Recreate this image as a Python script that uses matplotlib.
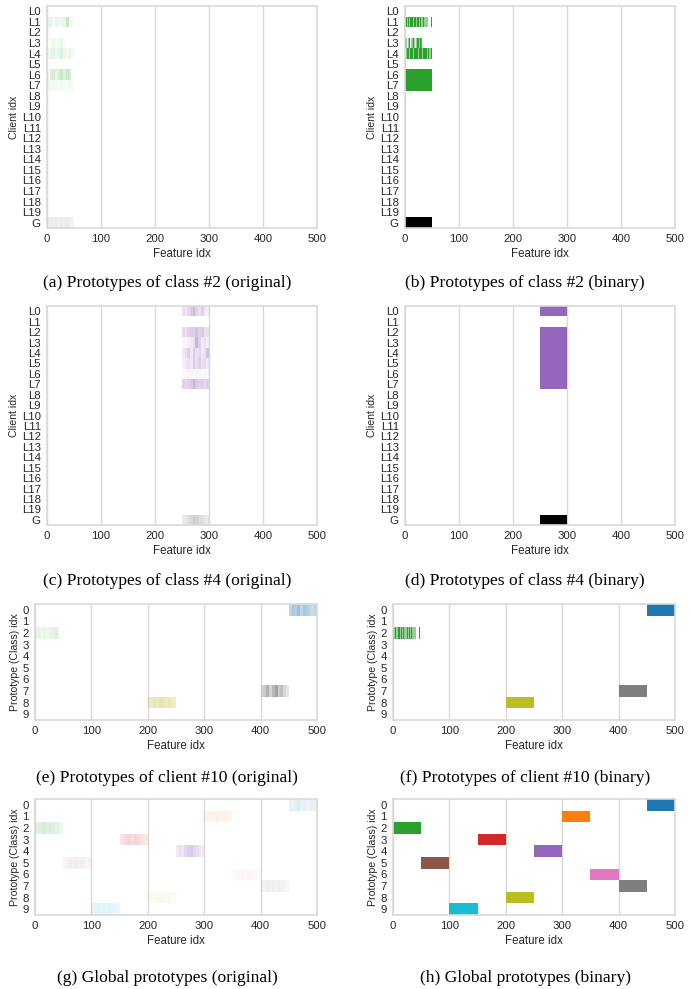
import numpy as np
import matplotlib
matplotlib.use("Agg")
import matplotlib.pyplot as plt
from matplotlib.colors import to_rgb

# ---------------- data ----------------
FEATURES = 500
CLIENT_LABELS = [f"L{i}" for i in range(20)] + ["G"]
CLASS_LABELS = [str(i) for i in range(10)]
CLASS_COLORS = ["#1f77b4", "#ff7f0e", "#2ca02c", "#d62728", "#9467bd",
                "#8c564b", "#e377c2", "#7f7f7f", "#bcbd22", "#17becf"]
GLOBAL_COLOR = "#000000"
BLOCK_START = [450, 300, 0, 150, 250, 50, 350, 400, 200, 100]   # block of 50 features per class
BLOCK_WIDTH = 50

# (a) class #2 original (10 segments of 5 features, intensity)
A_ROWS = {
    1: [0.08, 0.12, 0.05, 0.10, 0.06, 0.08, 0.10, 0.25, 0.05, 0.06],
    3: [0.00, 0.04, 0.08, 0.05, 0.06, 0.10, 0.04, 0.00, 0.00, 0.00],
    4: [0.05, 0.10, 0.12, 0.08, 0.10, 0.15, 0.08, 0.06, 0.10, 0.05],
    6: [0.05, 0.15, 0.20, 0.12, 0.18, 0.25, 0.15, 0.25, 0.20, 0.00],
    7: [0.04, 0.05, 0.06, 0.05, 0.04, 0.06, 0.05, 0.04, 0.06, 0.04],
}
A_GLOBAL = [0.06, 0.08, 0.07, 0.08, 0.06, 0.08, 0.07, 0.08, 0.06, 0.05]

# (b) class #2 binary (25 segments of 2 features)
B_ROWS = {
    1: [1, 1, .5, 1, .5, 1, 1, .5, 1, 1, .5, 1, 1, .5, 1, .5, .5, 1, .5, .5, .5, 0, 0, 0, 1],
    3: [1, .5, 0, .5, 1, 0, .5, 1, .5, 0, .5, 1, 1, .5, 1, .8, 0, 0, 0, 0, 0, 0, 0, 0, 0],
    4: [0, .5, 1, 1, .5, 1, 1, .5, 1, 1, 1, 1, .5, 1, 1, 1, .5, 1, 1, 1, .5, 1, .5, .5, 1],
    6: [1] * 25,
    7: [1] * 25,
}
B_GLOBAL = [1] * 25

# (c) class #4 original
C_ROWS = {
    0: [0.20, 0.15, 0.25, 0.35, 0.45, 0.30, 0.20, 0.30, 0.15, 0.10],
    2: [0.25, 0.20, 0.30, 0.35, 0.30, 0.40, 0.30, 0.35, 0.20, 0.20],
    3: [0.05, 0.05, 0.10, 0.15, 0.20, 0.50, 0.30, 0.15, 0.20, 0.10],
    4: [0.15, 0.20, 0.30, 0.15, 0.35, 0.20, 0.25, 0.15, 0.20, 0.40],
    5: [0.10, 0.15, 0.20, 0.15, 0.35, 0.20, 0.30, 0.20, 0.25, 0.15],
    6: [0.04, 0.05, 0.06, 0.05, 0.04, 0.06, 0.05, 0.04, 0.05, 0.04],
    7: [0.30, 0.25, 0.30, 0.35, 0.50, 0.35, 0.30, 0.30, 0.25, 0.30],
}
C_GLOBAL = [0.08, 0.10, 0.12, 0.15, 0.20, 0.18, 0.15, 0.12, 0.10, 0.08]

# (d) class #4 binary
D_ROWS = {r: [1] * 10 for r in [0, 2, 3, 4, 5, 6, 7]}
D_GLOBAL = [1] * 10

# (e) client #10 original (row = class)
E_ROWS = {
    0: [0.30, 0.40, 0.35, 0.45, 0.30, 0.40, 0.35, 0.30, 0.25, 0.30],
    2: [0.08, 0.10, 0.06, 0.10, 0.08, 0.10, 0.12, 0.15, 0.04, 0.00],
    7: [0.25, 0.40, 0.60, 0.35, 0.55, 0.70, 0.40, 0.50, 0.30, 0.20],
    8: [0.25, 0.30, 0.35, 0.30, 0.40, 0.35, 0.30, 0.35, 0.30, 0.25],
}
# (f) client #10 binary
F_ROWS = {
    0: [1] * 25,
    2: [1, .5, 1, .5, 1, 1, .5, 1, .5, 1, .5, .5, 1, .5, 1, .5, 1, .5, .5, .5, 0, 0, 0, 1, 0],
    7: [1] * 25,
    8: [1] * 25,
}

# (g) global original
G_ROWS = {
    0: [0.10, 0.08, 0.12, 0.15, 0.10, 0.12, 0.08, 0.10, 0.12, 0.10],
    1: [0.08, 0.10, 0.09, 0.10, 0.12, 0.10, 0.09, 0.11, 0.10, 0.08],
    2: [0.12, 0.15, 0.18, 0.20, 0.15, 0.18, 0.15, 0.12, 0.10, 0.08],
    3: [0.12, 0.15, 0.18, 0.20, 0.15, 0.20, 0.18, 0.15, 0.12, 0.10],
    4: [0.15, 0.20, 0.15, 0.25, 0.30, 0.35, 0.25, 0.20, 0.15, 0.12],
    5: [0.06, 0.08, 0.10, 0.08, 0.10, 0.08, 0.10, 0.08, 0.06, 0.05],
    6: [0.05, 0.06, 0.07, 0.08, 0.06, 0.08, 0.07, 0.06, 0.05, 0.04],
    7: [0.08, 0.10, 0.12, 0.10, 0.12, 0.10, 0.12, 0.10, 0.08, 0.06],
    8: [0.06, 0.08, 0.07, 0.08, 0.09, 0.08, 0.07, 0.08, 0.06, 0.05],
    9: [0.10, 0.12, 0.15, 0.12, 0.15, 0.12, 0.15, 0.12, 0.10, 0.08],
}
# (h) global binary
H_ROWS = {c: [1] * 10 for c in range(10)}

CAPTIONS = ["(a) Prototypes of class #2 (original)", "(b) Prototypes of class #2 (binary)",
            "(c) Prototypes of class #4 (original)", "(d) Prototypes of class #4 (binary)",
            "(e) Prototypes of client #10 (original)", "(f) Prototypes of client #10 (binary)",
            "(g) Global prototypes (original)", "(h) Global prototypes (binary)"]
XTICKS = [0, 100, 200, 300, 400, 500]

# ---------------- drawing ----------------
W, H = 691, 989
fig = plt.figure(figsize=(W / 100, H / 100), dpi=100)
fig.patch.set_facecolor("white")

SANS = ["Liberation Sans", "DejaVu Sans"]
SERIF = ["Liberation Serif", "DejaVu Serif"]
TXT = "#262626"
TICK_FS = 8.2


def px_axes(left, top, right, bottom):
    return fig.add_axes([left / W, 1 - bottom / H, (right - left) / W, (bottom - top) / H])


def build_image(nrows, entries):
    img = np.zeros((nrows, FEATURES, 4))
    for row, start, color, vals in entries:
        seg = BLOCK_WIDTH // len(vals)
        rgb = to_rgb(color)
        for i, v in enumerate(vals):
            s = start + i * seg
            img[row, s:s + seg, :3] = rgb
            img[row, s:s + seg, 3] = v
    return img


def draw_panel(rect, labels, entries, ylabel):
    ax = px_axes(*rect)
    n = len(labels)
    img = build_image(n, entries)
    ax.imshow(img, extent=(0, FEATURES, n - 0.5, -0.5), aspect="auto",
              interpolation="nearest", zorder=2)
    ax.set_xlim(0, FEATURES)
    ax.set_ylim(n - 0.5, -0.5)
    ax.set_xticks(XTICKS)
    ax.set_xticklabels([str(t) for t in XTICKS])
    ax.set_yticks(range(n))
    ax.set_yticklabels(labels)
    ax.grid(axis="x", color="#d9d9d9", linewidth=1.0, zorder=0)
    ax.grid(axis="y", visible=False)
    ax.set_axisbelow(True)
    for s in ax.spines.values():
        s.set_color("#d9d9d9")
        s.set_linewidth(1.2)
    ax.tick_params(length=0, labelsize=TICK_FS, labelcolor=TXT)
    ax.tick_params(axis="x", pad=4)
    ax.tick_params(axis="y", pad=4.5)
    for t in ax.get_xticklabels() + ax.get_yticklabels():
        t.set_family(SANS)
    ax.set_xlabel("Feature idx", fontsize=8.3, color=TXT, family=SANS, labelpad=3.5)
    ax.set_ylabel(ylabel, fontsize=7.6, color=TXT, family=SANS, labelpad=2)
    return ax


GI = len(CLIENT_LABELS) - 1
c2, c4 = 2, 4

entries_a = [(r, BLOCK_START[c2], CLASS_COLORS[c2], v) for r, v in A_ROWS.items()]
entries_a.append((GI, BLOCK_START[c2], GLOBAL_COLOR, A_GLOBAL))
entries_b = [(r, BLOCK_START[c2], CLASS_COLORS[c2], v) for r, v in B_ROWS.items()]
entries_b.append((GI, BLOCK_START[c2], GLOBAL_COLOR, B_GLOBAL))
entries_c = [(r, BLOCK_START[c4], CLASS_COLORS[c4], v) for r, v in C_ROWS.items()]
entries_c.append((GI, BLOCK_START[c4], GLOBAL_COLOR, C_GLOBAL))
entries_d = [(r, BLOCK_START[c4], CLASS_COLORS[c4], v) for r, v in D_ROWS.items()]
entries_d.append((GI, BLOCK_START[c4], GLOBAL_COLOR, D_GLOBAL))
entries_e = [(c, BLOCK_START[c], CLASS_COLORS[c], v) for c, v in E_ROWS.items()]
entries_f = [(c, BLOCK_START[c], CLASS_COLORS[c], v) for c, v in F_ROWS.items()]
entries_g = [(c, BLOCK_START[c], CLASS_COLORS[c], v) for c, v in G_ROWS.items()]
entries_h = [(c, BLOCK_START[c], CLASS_COLORS[c], v) for c, v in H_ROWS.items()]

panels = [
    ((47, 6, 317, 228), CLIENT_LABELS, entries_a, "Client idx"),
    ((405, 6, 675, 228), CLIENT_LABELS, entries_b, "Client idx"),
    ((47, 306, 317, 525), CLIENT_LABELS, entries_c, "Client idx"),
    ((405, 306, 675, 525), CLIENT_LABELS, entries_d, "Client idx"),
    ((35, 604, 317, 720), CLASS_LABELS, entries_e, "Prototype (Class) idx"),
    ((393, 604, 675, 720), CLASS_LABELS, entries_f, "Prototype (Class) idx"),
    ((35, 799, 317, 915), CLASS_LABELS, entries_g, "Prototype (Class) idx"),
    ((393, 799, 675, 915), CLASS_LABELS, entries_h, "Prototype (Class) idx"),
]
for rect, labels, entries, ylabel in panels:
    draw_panel(rect, labels, entries, ylabel)

cap_y = [283, 283, 581, 581, 778, 778, 978, 978]
cap_x = [167, 525] * 4
for txt, x, y in zip(CAPTIONS, cap_x, cap_y):
    fig.text(x / W, 1 - y / H, txt, ha="center", va="center", fontsize=12.6,
             family=SERIF, color="black")

fig.savefig("out.png", dpi=100, facecolor="white")
